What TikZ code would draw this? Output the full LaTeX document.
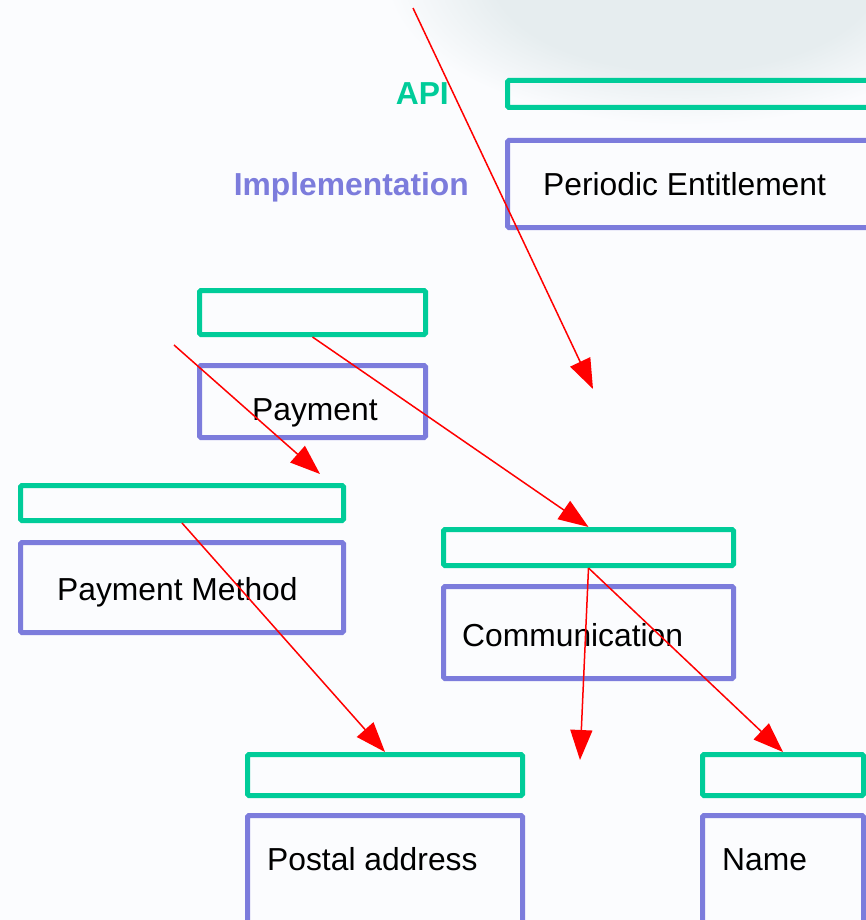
\documentclass[tikz,border=0pt]{standalone}
\usepackage{fontspec}
\setmainfont{Liberation Sans}
\usetikzlibrary{arrows.meta}

\definecolor{bgcol}{HTML}{FBFCFE}
\definecolor{hazecol}{HTML}{E6EDEF}
\definecolor{apigreen}{HTML}{00CC99}
\definecolor{implpurple}{HTML}{7C7CDC}
\definecolor{linkred}{HTML}{FF0000}

\pgfdeclareradialshading{haze}{\pgfpoint{0bp}{0bp}}{color(0bp)=(hazecol); color(16bp)=(hazecol); color(25bp)=(bgcol); color(50bp)=(bgcol)}

\tikzset{
  apibox/.style={draw=apigreen, line width=5pt, rounded corners=1.5pt, inner sep=0pt, anchor=north west, minimum width=#1},
  implbox/.style={draw=implpurple, line width=5pt, rounded corners=1.5pt, inner sep=0pt, anchor=north west, minimum width=#1},
  boxtext/.style={inner sep=0pt, anchor=base west, font=\fontsize{31.8}{38}\selectfont},
  layertext/.style={inner sep=0pt, anchor=base east, font=\fontsize{31.8}{38}\selectfont\bfseries},
  link/.style={draw=linkred, line width=1.5pt, -{Triangle[length=30pt,width=22pt]}}
}

\begin{document}
\begin{tikzpicture}[x=1pt, y=-1pt]
\useasboundingbox (0,0) rectangle (866,920);
\clip (0,0) rectangle (866,920);
\fill[bgcol] (0,0) rectangle (866,920);
\shade[shading=haze] (685,-25) ellipse [x radius=300, y radius=150];

\node[layertext, text=apigreen] (apiLbl) at (449,105) {API};
\node[layertext, text=implpurple] (implLbl) at (469,195) {Implementation};

\node[apibox=400pt, minimum height=27pt] (peApi) at (505,78) {};
\node[implbox=400pt, minimum height=87pt] (peImpl) at (505,138) {};
\node[boxtext] (peTxt) at (543,195) {Periodic Entitlement};

\node[apibox=226pt, minimum height=44pt] (payApi) at (197,288) {};
\node[implbox=226pt, minimum height=72pt] (payImpl) at (197,363) {};
\node[boxtext] (payTxt) at (252,420) {Payment};

\node[apibox=323pt, minimum height=35pt] (pmApi) at (18,483) {};
\node[implbox=323pt, minimum height=90pt] (pmImpl) at (18,540) {};
\node[boxtext] (pmTxt) at (57,600) {Payment Method};

\node[apibox=290pt, minimum height=36pt] (commApi) at (441,527) {};
\node[implbox=290pt, minimum height=92pt] (commImpl) at (441,584) {};
\node[boxtext] (commTxt) at (462,646) {Communication};

\node[apibox=275pt, minimum height=41pt] (postApi) at (245,752) {};
\node[implbox=275pt, minimum height=140pt] (postImpl) at (245,813) {};
\node[boxtext] (postTxt) at (267,870) {Postal address};

\node[apibox=161pt, minimum height=41pt] (nameApi) at (700,752) {};
\node[implbox=161pt, minimum height=140pt] (nameImpl) at (700,813) {};
\node[boxtext] (nameTxt) at (722,870) {Name};

\coordinate (entIn) at (413,8);
\coordinate (entOut) at (593,389);
\coordinate (payIn) at (174,345);
\coordinate (payOut) at (320,474);
\coordinate (commOut) at (580,760);

\draw[link] (entIn) -- (entOut);
\draw[link] (payIn) -- (payOut);
\draw[link] (payApi.south) -- (commApi.north);
\draw[link] (pmApi.south) -- (postApi.north);
\draw[link] (commApi.south) -- (commOut);
\draw[link] (commApi.south) -- (nameApi.north);
\end{tikzpicture}
\end{document}
